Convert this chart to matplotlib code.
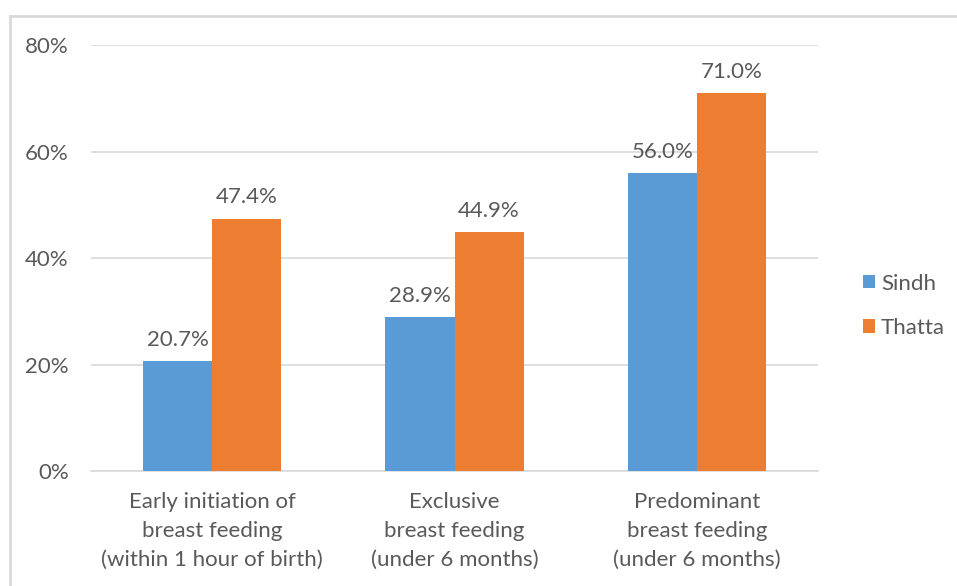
import numpy as np
import matplotlib.pyplot as plt
from matplotlib.patches import Rectangle

plt.rcParams['font.family'] = ['Lato', 'DejaVu Sans']

# Breastfeeding indicators, Sindh vs Thatta (percent)
categories = ['Early initiation of\nbreast feeding\n(within 1 hour of birth)',
              'Exclusive\nbreast feeding\n(under 6 months)',
              'Predominant\nbreast feeding\n(under 6 months)']
sindh = [20.7, 28.9, 56.0]
thatta = [47.4, 44.9, 71.0]
yticks = [0, 20, 40, 60, 80]

blue = '#5b9bd5'
orange = '#ed7d31'
grey = '#595959'
fs = 16

fig = plt.figure(figsize=(9.57, 5.86), dpi=100)
ax = fig.add_axes([0.0951, 0.1962, 0.7597, 0.7270])

x = np.arange(len(categories))
w = 0.285
b1 = ax.bar(x - w/2, sindh, w, color=blue, label='Sindh', zorder=3)
b2 = ax.bar(x + w/2, thatta, w, color=orange, label='Thatta', zorder=3)

for bars, vals in [(b1, sindh), (b2, thatta)]:
    for r, v in zip(bars, vals):
        ax.annotate(f'{v:.1f}%', (r.get_x() + r.get_width()/2, v),
                    xytext=(0, 8), textcoords='offset points',
                    ha='center', va='bottom', fontsize=fs, color=grey)

ax.set_xlim(-0.5, 2.5)
ax.set_ylim(0, 80)
ax.set_yticks(yticks)
ax.set_yticklabels([f'{t}%' for t in yticks])
ax.set_xticks(x)
ax.set_xticklabels(categories, linespacing=1.56)
ax.tick_params(axis='both', length=0, labelsize=fs, colors=grey)
ax.tick_params(axis='y', pad=16)
ax.tick_params(axis='x', pad=15)
ax.grid(axis='y', color='#d9d9d9', linewidth=1.2, zorder=0)
for s in ['top', 'right', 'left']:
    ax.spines[s].set_visible(False)
ax.spines['bottom'].set_color('#d9d9d9')
ax.spines['bottom'].set_linewidth(1.2)

leg = ax.legend(loc='center left', bbox_to_anchor=(1.034, 0.388), frameon=False,
                fontsize=fs, handlelength=0.55, handleheight=0.55,
                handletextpad=0.27, labelspacing=1.1)
for t in leg.get_texts():
    t.set_color(grey)

# chart area outline, only left and top edges fall inside the image
fig.patches.append(Rectangle((10/957, -0.1), 2, 1.1 - 16/586,
                             transform=fig.transFigure, fill=False,
                             edgecolor='#d9d9d9', linewidth=2))

fig.savefig('out.png', dpi=100)
